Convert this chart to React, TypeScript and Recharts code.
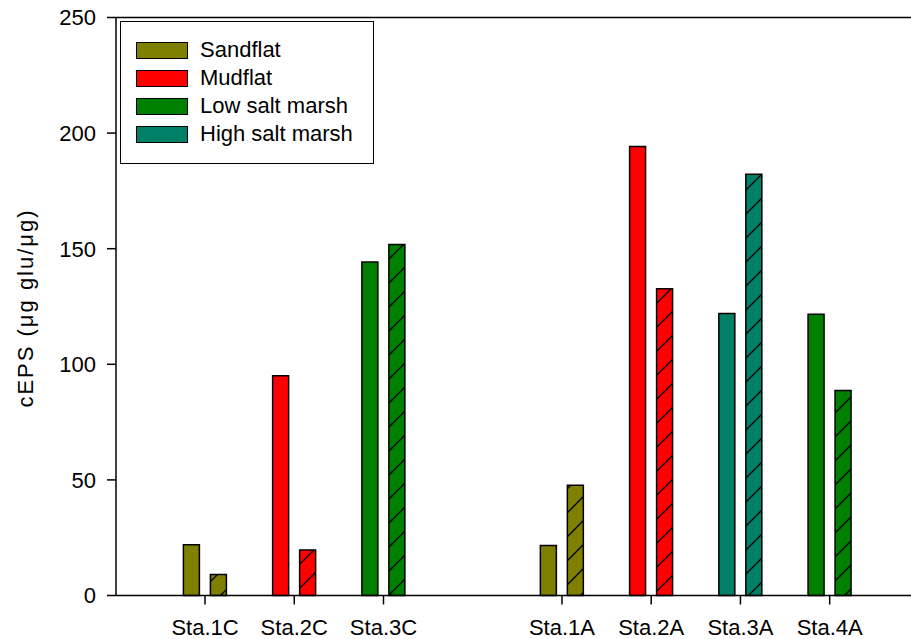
import React from 'react';
import { BarChart, Bar, XAxis, YAxis, Cell, Legend, ReferenceLine } from 'recharts';

const stations = ["Sta.1C", "Sta.2C", "Sta.3C", "", "Sta.1A", "Sta.2A", "Sta.3A", "Sta.4A"];
const stationHabitats = ["Sandflat", "Mudflat", "Low salt marsh", "", "Sandflat", "Mudflat", "High salt marsh", "Low salt marsh"];
const solidValues = [22, 95, 144.2, null, 21.6, 194.2, 122, 121.6];
const hatchedValues = [9.1, 19.7, 151.8, null, 47.7, 132.7, 182.2, 88.7];
const legendNames = ["Sandflat", "Mudflat", "Low salt marsh", "High salt marsh"];
const legendColors = ["#808000", "#FF0000", "#008000", "#008066"];
const yTicks = [0, 50, 100, 150, 200, 250];
const yLabel = "cEPS (μg glu/μg)";

const FONT = "'Liberation Sans', Arial, sans-serif";
const FS = 22;

const data = stations.map((s, i) => ({
  station: s,
  habitat: stationHabitats[i],
  solid: solidValues[i],
  hatched: hatchedValues[i],
}));

const colorOf = (h: string) => {
  const i = legendNames.indexOf(h);
  return i >= 0 ? legendColors[i] : '#ffffff';
};
const patternId = (h: string) => 'hatch-' + legendNames.indexOf(h);

const XTick = (props: any) => {
  const { x, y, payload } = props;
  if (!payload || !payload.value) return null;
  return (
    <g>
      <line x1={x} x2={x} y1={y} y2={y + 9} stroke="#000" strokeWidth={1.5} />
      <text x={x} y={y + 39} textAnchor="middle" fontFamily={FONT} fontSize={FS} fill="#000">
        {payload.value}
      </text>
    </g>
  );
};

const YLabel = () => (
  <text
    x={0}
    y={0}
    transform="translate(32.5, 308) rotate(-90)"
    textAnchor="middle"
    fontFamily={FONT}
    fontSize={FS}
    letterSpacing={2}
    fill="#000"
  >
    {yLabel}
  </text>
);

const LegendBox = () => (
  <div
    style={{
      position: 'relative',
      width: 252,
      height: 141,
      border: '1.5px solid #000',
      background: '#fff',
      fontFamily: FONT,
    }}
  >
    {legendNames.map((n, i) => (
      <div key={n}>
        <div
          style={{
            position: 'absolute',
            left: 15,
            top: 19.5 + i * 28.2,
            width: 50,
            height: 15,
            background: legendColors[i],
            border: '1.5px solid #000',
          }}
        />
        <div
          style={{
            position: 'absolute',
            left: 79,
            top: 14.5 + i * 28.2,
            fontSize: FS,
            lineHeight: '26px',
            color: '#000',
            whiteSpace: 'nowrap',
          }}
        >
          {n}
        </div>
      </div>
    ))}
  </div>
);

export default function App() {
  return (
    <div style={{ position: 'fixed', left: 0, top: 0, width: 911, height: 639, overflow: 'hidden', background: '#fff' }}>
      <BarChart
        width={920}
        height={639}
        data={data}
        margin={{ top: 17.5, right: 0, bottom: 0, left: 0 }}
        barSize={16}
        barGap={11}
      >
        <defs>
          {legendNames.map((n, i) => (
            <pattern key={n} id={'hatch-' + i} patternUnits="userSpaceOnUse" width={24} height={24}>
              <rect x={0} y={0} width={24} height={24} fill={legendColors[i]} />
              <line x1={0} y1={24} x2={24} y2={0} stroke="#000" strokeWidth={1.3} />
              <line x1={-6} y1={6} x2={6} y2={-6} stroke="#000" strokeWidth={1.3} />
              <line x1={18} y1={30} x2={30} y2={18} stroke="#000" strokeWidth={1.3} />
            </pattern>
          ))}
        </defs>
        <XAxis
          dataKey="station"
          type="category"
          height={43.5}
          padding={{ left: 44.4, right: 45.7 }}
          axisLine={{ stroke: '#000', strokeWidth: 1.5 }}
          tickLine={false}
          tickSize={0}
          tickMargin={0}
          interval={0}
          tick={<XTick />}
        />
        <YAxis
          type="number"
          domain={[0, 250]}
          ticks={yTicks}
          width={116}
          axisLine={{ stroke: '#000', strokeWidth: 1.5 }}
          tickLine={{ stroke: '#000', strokeWidth: 1.5 }}
          tickSize={9}
          tickMargin={11}
          tick={{ fill: '#000', fontSize: FS, fontFamily: FONT }}
          label={YLabel}
        />
        <ReferenceLine y={250} stroke="#000" strokeWidth={1.5} />
        <Legend
          layout="vertical"
          align="center"
          verticalAlign="middle"
          content={LegendBox}
          wrapperStyle={{ position: 'absolute', left: 120, top: 21, width: 'auto', height: 'auto' }}
        />
        <Bar dataKey="solid" stroke="#000" strokeWidth={1.5} isAnimationActive={false}>
          {data.map((d, i) => (
            <Cell key={i} fill={colorOf(d.habitat)} />
          ))}
        </Bar>
        <Bar dataKey="hatched" stroke="#000" strokeWidth={1.5} isAnimationActive={false}>
          {data.map((d, i) => (
            <Cell key={i} fill={`url(#${patternId(d.habitat)})`} />
          ))}
        </Bar>
      </BarChart>
    </div>
  );
}
